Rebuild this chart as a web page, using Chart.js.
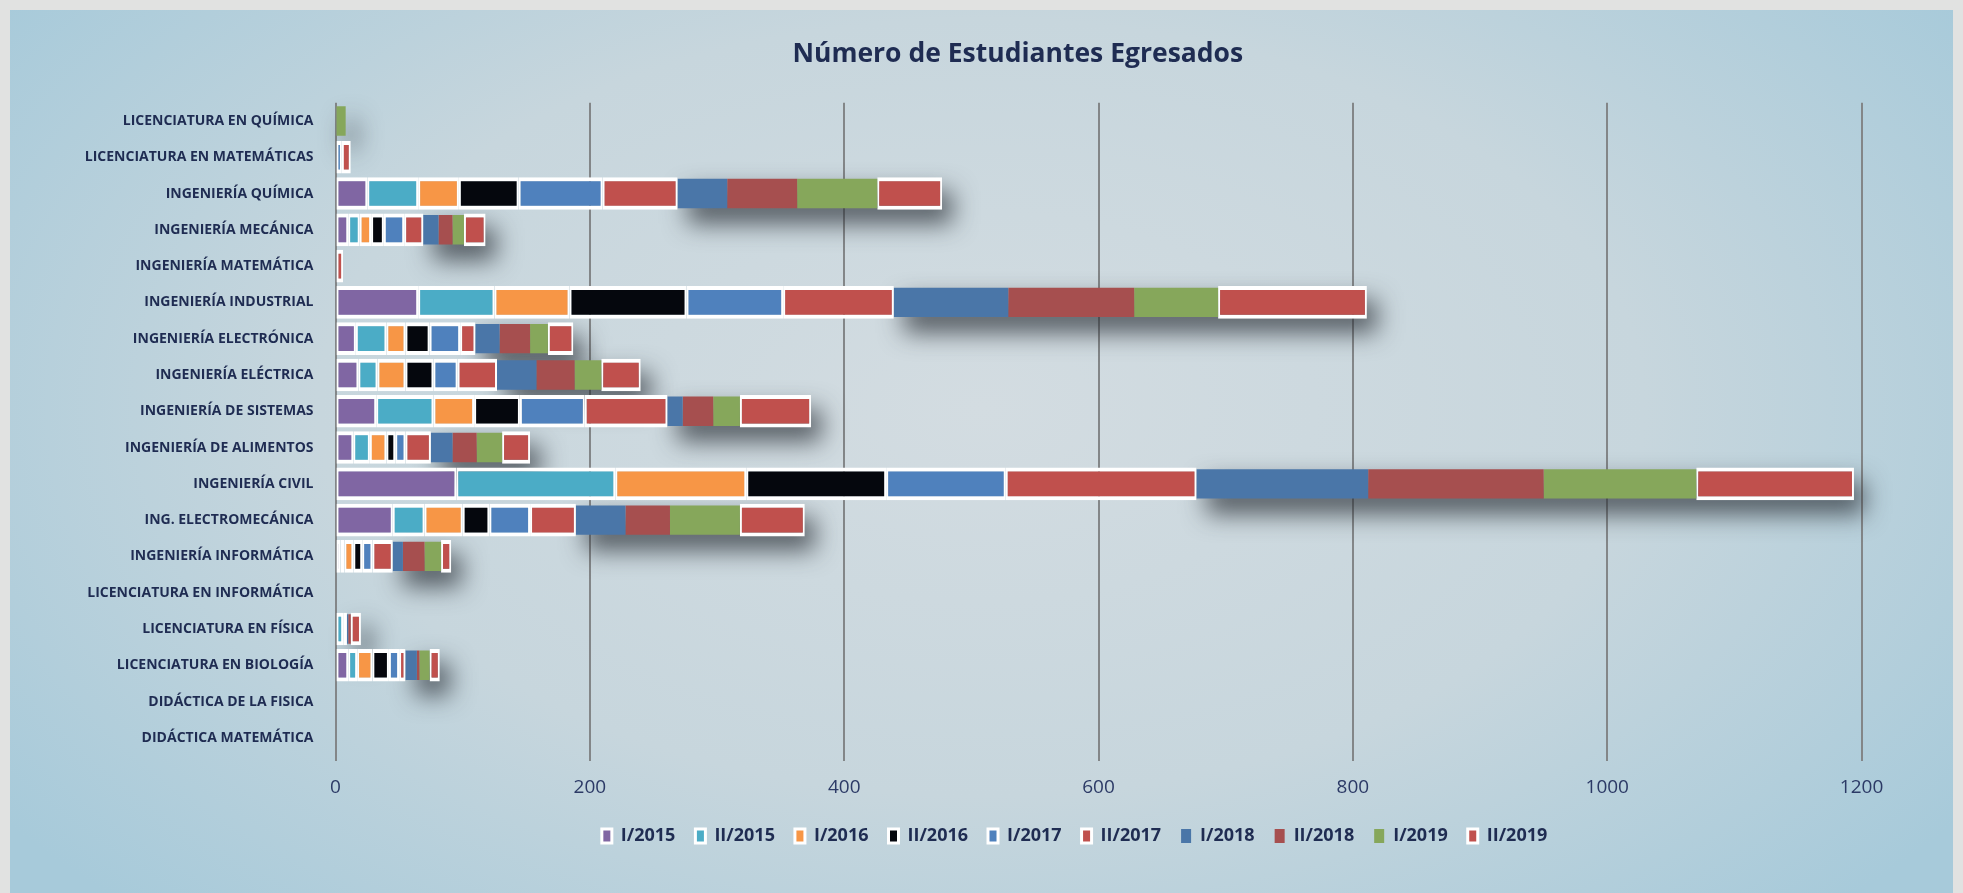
<!DOCTYPE html>
<html>
<head>
<meta charset="utf-8">
<script src="https://cdn.jsdelivr.net/npm/chart.js@4.4.0/dist/chart.umd.min.js"></script>
<style>
  html, body { margin: 0; padding: 0; background: #e1e2e1; }
  #panel {
    position: absolute; left: 10px; top: 10px; width: 1943px; height: 883px;
    background: radial-gradient(ellipse 62% 80% at 50% 45%, #d3dce1 0%, #c7d6dd 55%, #a7cada 100%);
  }
  canvas { display: block; }
</style>
</head>
<body>
<div id="panel"><canvas id="chart" width="1943" height="883"></canvas></div>
<script>
// categories, top to bottom
const categories = [
  'LICENCIATURA EN QUÍMICA', 'LICENCIATURA EN MATEMÁTICAS', 'INGENIERÍA QUÍMICA',
  'INGENIERÍA MECÁNICA', 'INGENIERÍA MATEMÁTICA', 'INGENIERÍA INDUSTRIAL',
  'INGENIERÍA ELECTRÓNICA', 'INGENIERÍA ELÉCTRICA', 'INGENIERÍA DE SISTEMAS',
  'INGENIERÍA DE ALIMENTOS', 'INGENIERÍA CIVIL', 'ING. ELECTROMECÁNICA',
  'INGENIERÍA INFORMÁTICA', 'LICENCIATURA EN INFORMÁTICA', 'LICENCIATURA EN FÍSICA',
  'LICENCIATURA EN BIOLOGÍA', 'DIDÁCTICA DE LA FISICA', 'DIDÁCTICA MATEMÁTICA'
];

const seriesNames = ['I/2015', 'II/2015', 'I/2016', 'II/2016', 'I/2017',
  'II/2017', 'I/2018', 'II/2018', 'I/2019', 'II/2019'];

const sem1_2015 = [0, 0, 25, 10, 0, 65, 16, 18, 32, 14, 95, 45, 4, 0, 0, 10, 0, 0];
const sem2_2015 = [0, 0, 40, 9, 0, 60, 24, 15, 45, 13, 125, 25, 3, 0, 6, 7, 0, 0];
const sem1_2016 = [0, 0, 32, 9, 0, 59, 15, 22, 32, 13, 103, 30, 7, 0, 0, 12, 0, 0];
const sem2_2016 = [0, 0, 47, 10, 0, 92, 19, 22, 36, 7, 110, 21, 7, 0, 0, 13, 0, 0];
const sem1_2017 = [0, 5, 66, 16, 0, 76, 24, 19, 51, 8, 94, 32, 8, 0, 3, 8, 0, 0];
const sem2_2017 = [0, 7, 59, 15, 6, 87, 12, 31, 65, 20, 150, 36, 16, 0, 0, 5, 0, 0];
const sem1_2018 = [0, 0, 39, 12, 0, 90, 19, 31, 12, 17, 135, 39, 8, 0, 1, 9, 0, 0];
const sem2_2018 = [0, 0, 55, 11, 0, 99, 24, 30, 24, 19, 138, 35, 17, 0, 2, 2, 0, 0];
const sem1_2019 = [8, 0, 63, 9, 0, 66, 14, 21, 21, 20, 120, 55, 13, 0, 0, 8, 0, 0];
const sem2_2019 = [0, 0, 51, 17, 0, 117, 20, 31, 56, 22, 124, 51, 8, 0, 8, 8, 0, 0];

const xMax = 1200;
const xStep = 200;

const allSeries = [sem1_2015, sem2_2015, sem1_2016, sem2_2016, sem1_2017,
  sem2_2017, sem1_2018, sem2_2018, sem1_2019, sem2_2019];
const colors = ['#8066a3', '#4bacc6', '#f79646', '#05070d', '#4f81bd',
  '#c0504d', '#4a76a8', '#a64f4f', '#86a75b', '#c0504d'];
// series drawn without the white frame (they carry the shadow instead)
const plain = [6, 7, 8];
const shadowed = [6, 7, 8, 9];

const navy = '#1f2c52';
const font = "'Open Sans', 'DejaVu Sans', sans-serif";

const datasets = allSeries.map((vals, i) => {
  const framed = !plain.includes(i);
  return {
    label: seriesNames[i],
    data: vals,
    backgroundColor: colors[i],
    borderColor: '#ffffff',
    borderWidth: framed ? { top: 4, bottom: 4, left: 2, right: 2 } : 0,
    borderSkipped: false,
    barPercentage: framed ? 0.9 : 0.81,
    categoryPercentage: 1
  };
});

// soft shadow behind the last part of each bar
const barShadow = {
  id: 'barShadow',
  beforeDatasetsDraw(chart) {
    const ctx = chart.ctx;
    ctx.save();
    ctx.shadowColor = 'rgba(40, 46, 52, 0.72)';
    ctx.shadowBlur = 24;
    ctx.shadowOffsetX = 10000 + 10;
    ctx.shadowOffsetY = 14;
    ctx.fillStyle = '#000';
    categories.forEach((c, i) => {
      let start = null, end = null, cy = 0, h = 0;
      shadowed.forEach(d => {
        if (!allSeries[d][i]) return;
        const el = chart.getDatasetMeta(d).data[i];
        const p = el.getProps(['x', 'y', 'base', 'height'], true);
        const a = Math.min(p.x, p.base), b = Math.max(p.x, p.base);
        start = start === null ? a : Math.min(start, a);
        end = end === null ? b : Math.max(end, b);
        cy = p.y; h = Math.max(h, p.height);
      });
      if (start !== null) ctx.fillRect(start - 10000, cy - h / 2, end - start, h);
    });
    ctx.restore();
  }
};

// move title and legend sideways to where the original has them
const boxShift = {
  id: 'boxShift',
  afterLayout(chart) {
    chart.titleBlock.left += 82;
    chart.titleBlock.right += 82;
    chart.legend.left -= 24;
    chart.legend.right -= 24;
  }
};

new Chart(document.getElementById('chart'), {
  type: 'bar',
  data: { labels: categories, datasets },
  plugins: [barShadow, boxShift],
  options: {
    indexAxis: 'y',
    responsive: false,
    devicePixelRatio: 1,
    animation: false,
    layout: { padding: { left: 0, right: 91.4, top: 0, bottom: 38 } },
    scales: {
      x: {
        stacked: true,
        min: 0,
        max: xMax,
        ticks: {
          stepSize: xStep, color: '#2c3a66', padding: 15,
          font: { family: font, size: 19 },
          callback: v => String(v)
        },
        grid: { color: '#838688', lineWidth: 2, tickLength: 5, drawTicks: true },
        border: { display: false },
        afterFit(scale) { scale.height = 51; }
      },
      y: {
        stacked: true,
        ticks: { color: navy, padding: 22, autoSkip: false, font: { family: font, size: 14, weight: 'bold' } },
        grid: { display: false, drawTicks: false },
        border: { display: false },
        afterFit(scale) { scale.width = 325.5; }
      }
    },
    plugins: {
      title: {
        display: true,
        text: 'Número de Estudiantes Egresados',
        color: navy,
        font: { family: font, size: 26.5, weight: 'bold' },
        padding: { top: 29, bottom: 32 }
      },
      legend: {
        position: 'bottom',
        fullSize: false,
        labels: {
          color: navy,
          boxWidth: 10,
          boxHeight: 14,
          padding: 20,
          font: { family: font, size: 18, weight: 'bold' }
        }
      },
      tooltip: { enabled: false }
    }
  }
});
</script>
</body>
</html>
